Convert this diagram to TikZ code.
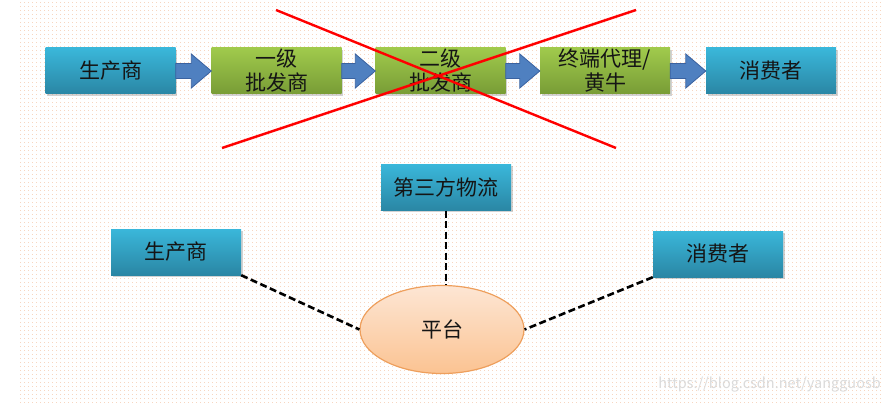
\documentclass[tikz,border=0pt]{standalone}
\usepackage{fontspec}
\setmainfont{Noto Sans CJK SC}
\usetikzlibrary{calc,shadows,patterns.meta,shapes.geometric}
\definecolor{bluetop}{HTML}{3AB7DA}
\definecolor{bluebot}{HTML}{2A86A4}
\definecolor{greentop}{HTML}{A0CA4C}
\definecolor{greenbot}{HTML}{789C36}
\definecolor{arrowfill}{HTML}{4F80C0}
\definecolor{arrowline}{HTML}{3A62A0}
\definecolor{ovaltop}{HTML}{FDE6D4}
\definecolor{ovalbot}{HTML}{FBC392}
\definecolor{ovalline}{HTML}{EE9F5C}
\definecolor{dotcol}{HTML}{F7D6C0}
\definecolor{textcol}{HTML}{151515}
\tikzdeclarepattern{
  name=bgdots,
  type=uncolored,
  bounding box={(0,0) and (4pt,4pt)},
  tile size={(4pt,4pt)},
  code={\fill (0,0) rectangle (1.1pt,1.1pt);}
}
\tikzset{
  box/.style={rectangle, minimum width=130pt, minimum height=46pt, inner sep=0pt,
    font=\fontsize{21}{24}\selectfont, text=textcol, align=center,
    drop shadow={shadow xshift=1.5pt, shadow yshift=-2pt, opacity=0.35}},
  bluebox/.style={box, top color=bluetop, bottom color=bluebot},
  greenbox/.style={box, top color=greentop, bottom color=greenbot},
  fatarrow/.style={fill=arrowfill, draw=arrowline, line width=0.8pt, line join=miter},
  cross/.style={draw=red, line width=2.4pt},
  link/.style={draw=black, line width=2.6pt, dash pattern=on 7pt off 3.5pt},
  oval/.style={ellipse, minimum width=164pt, minimum height=88pt, inner sep=0pt,
    top color=ovaltop, bottom color=ovalbot, draw=ovalline, line width=1.2pt,
    font=\fontsize{21}{24}\selectfont, text=textcol}
}
\newcommand{\fatarr}[2]{%
  \path[fatarrow] ($(#1.east)+(0,7.5)$) -- ($(#2.west)+(-20,7.5)$) -- ($(#2.west)+(-20,17)$)
    -- (#2.west) -- ($(#2.west)+(-20,-17)$) -- ($(#2.west)+(-20,-7.5)$)
    -- ($(#1.east)+(0,-7.5)$) -- cycle;}
\begin{document}
\begin{tikzpicture}[x=1pt,y=-1pt]
\useasboundingbox (0,0) rectangle (890,403);
\fill[white] (0,0) rectangle (890,403);
\fill[pattern=bgdots, pattern color=dotcol] (20,0) rectangle (882,403);

% top chain
\node[bluebox] (p1) at (110.5,71) {生产商};
\node[greenbox] (w1) at (276.5,71) {一级\\批发商};
\node[greenbox] (w2) at (440.5,71) {二级\\批发商};
\node[greenbox] (ag) at (605,71) {终端代理/\\黄牛};
\node[bluebox] (c1) at (771,71) {消费者};
\fatarr{p1}{w1}
\fatarr{w1}{w2}
\fatarr{w2}{ag}
\fatarr{ag}{c1}

% red cross
\coordinate (xa) at (276,10);
\coordinate (xb) at (616,148);
\coordinate (xc) at (222,148);
\coordinate (xd) at (636,10);
\draw[cross] (xa) -- (xb);
\draw[cross] (xc) -- (xd);

% bottom platform model
\node[bluebox] (lg) at (446,187.5) {第三方物流};
\node[bluebox] (p2) at (176,252) {生产商};
\node[bluebox] (c2) at (718,254) {消费者};
\node[oval] (pf) at (442,329.5) {平台};
\draw[link] (p2.south east) -- (pf.west);
\draw[link] (lg.south) -- (lg.south |- pf.north);
\draw[link] (c2.south west) -- (pf.east);

% watermark
\node[anchor=east, text=gray!28, font=\fontsize{14.5}{16}\selectfont, inner sep=0pt] (wm) at (881,385) {https://blog.csdn.net/yangguosb};
\end{tikzpicture}
\end{document}
